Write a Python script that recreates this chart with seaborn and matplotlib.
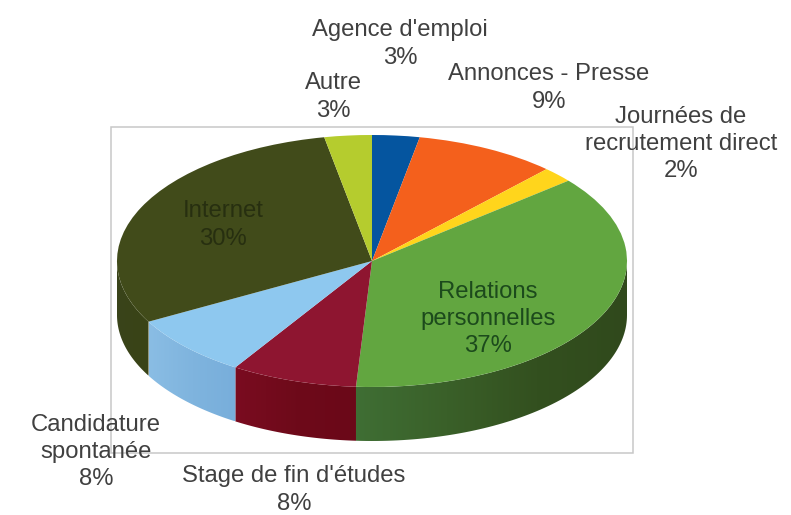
import numpy as np
import matplotlib
matplotlib.use("Agg")
import matplotlib.pyplot as plt
import matplotlib.colors as mcolors
from matplotlib.patches import Polygon, Rectangle
import seaborn as sns

categories = ["Agence d'emploi", "Annonces - Presse", "Journées de\nrecrutement direct",
              "Relations\npersonnelles", "Stage de fin d'études", "Candidature\nspontanée",
              "Internet", "Autre"]
values = [3, 9, 2, 37, 8, 8, 30, 3]

top_colors = ["#05559f", "#f4601c", "#ffd51c", "#62a640", "#8e1530", "#8ec8ef", "#414b1a", "#b5cc2e"]
# wall colours, left to right on screen, only the front slices have a wall
wall_colors = {3: ["#3f6e34", "#3a6029", "#33501f", "#30491c"],
               4: ["#7a0c20", "#6e0a1a", "#6b0818"],
               5: ["#8abde4", "#7fb4de", "#78aedb"],
               6: ["#39431a", "#3a4416"]}
label_px = [(400, 44), (549, 88), (681, 144), (488, 319), (294, 490), (96, 452), (223, 225), (333, 97)]
label_colors = ["#404040", "#404040", "#404040", "#1c4a1c", "#404040", "#404040", "#272f10", "#404040"]

W, H = 791, 515
cx, cy, rx, ry, depth = 372, 261, 255, 126, 54

sns.set_theme(style="white")
plt.rcParams["font.family"] = ["Liberation Sans", "DejaVu Sans"]

fig = plt.figure(figsize=(W / 100, H / 100), dpi=100, facecolor="white")
ax = fig.add_axes([0, 0, 1, 1])

# unit circle squashed by the axes limits gives the tilted look
ax.pie(values, colors=sns.color_palette(top_colors), startangle=90, counterclock=False,
       radius=1, center=(0, 0), wedgeprops={"linewidth": 0, "antialiased": True, "zorder": 3})
ax.set_aspect("auto")
xlim = (-cx / rx, (W - cx) / rx)
ylim = (-(H - cy) / ry, cy / ry)

d = depth / ry
cum = np.cumsum([0] + values) / sum(values) * 360
for i, cols in wall_colors.items():
    a0, a1 = max(cum[i], 90), min(cum[i + 1], 270)
    t = np.radians(np.linspace(a0, a1, 80))
    x, y = np.sin(t), np.cos(t)
    pts = np.r_[np.c_[x, y], np.c_[x[::-1], y[::-1] - d]]
    poly = Polygon(pts, closed=True, facecolor="none", edgecolor="none", transform=ax.transData)
    ax.add_patch(poly)
    cmap = mcolors.LinearSegmentedColormap.from_list("wall", cols)
    im = ax.imshow(np.linspace(0, 1, 128)[None, :], cmap=cmap, aspect="auto", zorder=2,
                   extent=(x.min(), x.max(), y.min() - d, y.max()))
    im.set_clip_path(poly)

ax.set_xlim(xlim)
ax.set_ylim(ylim)
ax.set_frame_on(False)
ax.set_xticks([])
ax.set_yticks([])

ax.add_patch(Rectangle((111 / W, 1 - 453 / H), 522 / W, 326 / H, transform=fig.transFigure,
                       facecolor="none", edgecolor="#c8c8c8", linewidth=1.1, zorder=1))

for name, v, (px, py), col in zip(categories, values, label_px, label_colors):
    fig.text(px / W, 1 - py / H, f"{name}\n{v}%", ha="center", va="center", color=col,
             fontsize=17.2, linespacing=1.3, zorder=5)

fig.savefig("out.png", dpi=100)
